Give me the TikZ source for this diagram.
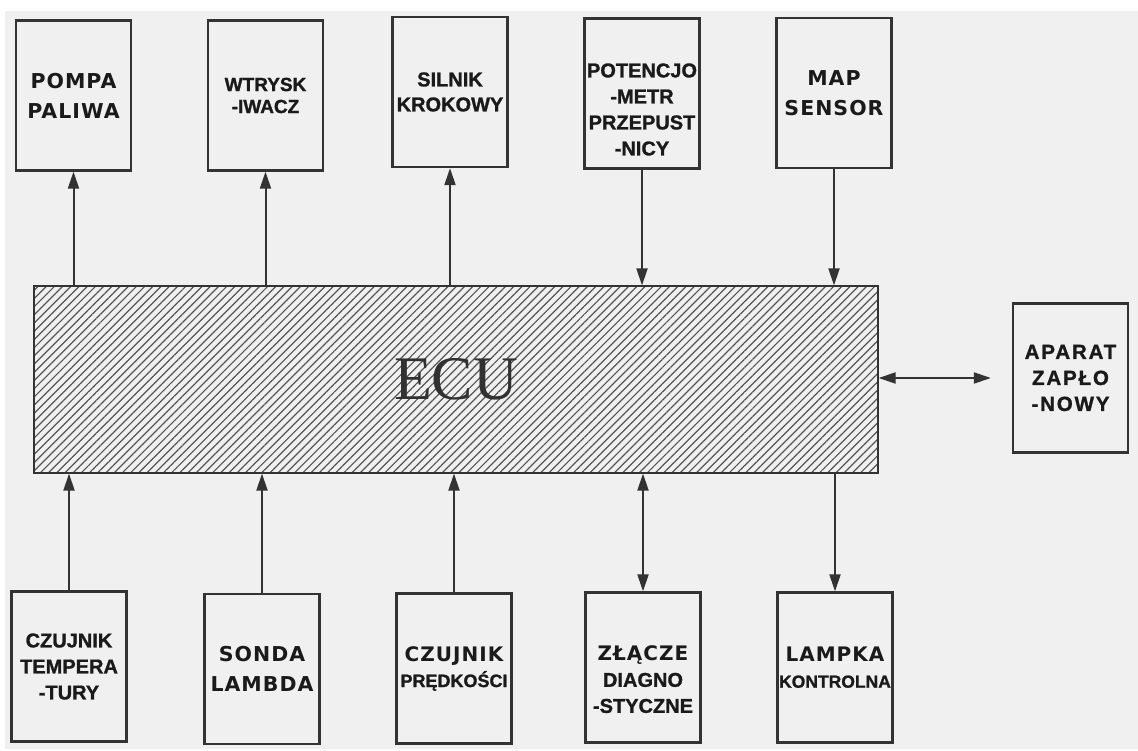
\documentclass[tikz,border=0pt]{standalone}
\usepackage{fontspec}
\usepackage{tikz}
\usetikzlibrary{arrows.meta,positioning,patterns.meta}
\setmainfont{Liberation Sans}[BoldFeatures={FakeBold=1.2}]
\newfontfamily\widefont{DejaVu Sans}[LetterSpace=5]
\newfontfamily\spacedfont{Liberation Sans}[LetterSpace=9,BoldFeatures={FakeBold=1.2}]
\newfontfamily\ecufont{Liberation Serif}
\definecolor{bg}{HTML}{F0F0F0}
\definecolor{ink}{HTML}{333333}
\definecolor{txt}{HTML}{1A1A1A}
\definecolor{hatch}{HTML}{555555}
\tikzset{
  unit/.style={draw=ink, line width=2.3pt, minimum width=115pt, minimum height=150pt, inner sep=0pt, align=center, text=txt, font=\fontsize{20}{26}\selectfont\bfseries},
  lab/.style={align=center, text=txt, inner sep=0pt, font=\fontsize{20}{26}\selectfont\bfseries},
  wide/.style={font=\fontsize{20.5}{30}\selectfont\widefont\bfseries},
  sig/.style={draw=ink, line width=2pt, -{Triangle[length=17pt,width=11pt]}},
  sig2/.style={sig, {Triangle[length=17pt,width=11pt]}-{Triangle[length=17pt,width=11pt]}},
}

\begin{document}
\begin{tikzpicture}[x=1pt,y=-1pt]
\useasboundingbox (0,0) rectangle (1138,751);
\fill[bg] (5,11) rectangle (1138,749);

% ECU
\node[draw=ink, line width=2pt, minimum width=844pt, minimum height=187pt, inner sep=0pt,
  pattern={Lines[angle=45,distance=5.8pt,line width=1.2pt]}, pattern color=hatch,
  text=txt!90, font=\fontsize{62}{62}\selectfont\ecufont] (ecu) at (456,379.5) {ECU};

% outputs / inputs, top row
\node[unit, wide] (pompa) at (73.5,95.5) {POMPA\\PALIWA};
\node[unit, font=\fontsize{19}{22}\selectfont\bfseries] (wtrysk) at (265.5,95.5) {WTRYSK\\-IWACZ};
\node[unit, font=\fontsize{20}{25}\selectfont\bfseries] (silnik) at (450,92) {SILNIK\\KROKOWY};
\node[unit] (potenc) at (642,93.5) {};
\node[lab] (potenc-t) at ([yshift=-16pt]potenc.center) {POTENCJO\\-METR\\PRZEPUST\\-NICY};
\node[unit, wide] (map) at (834,93) {MAP\\SENSOR};

% bottom row
\node[unit] (czujtemp) at (69,666.5) {CZUJNIK\\TEMPERA\\-TURY};
\node[unit, wide] (sonda) at (262,669) {SONDA\\LAMBDA};
\node[unit] (czujpred) at (454,668.5) {{\widefont\bfseries CZUJNIK}\\{\fontsize{18}{24}\selectfont PRĘDKOŚCI}};
\node[unit] (zlacze) at (643,667.5) {};
\node[lab] (zlacze-t) at ([yshift=-12pt]zlacze.center) {{\widefont\bfseries ZŁĄCZE}\\DIAGNO\\-STYCZNE};
\node[unit] (lampka) at (835,667.5) {{\widefont\bfseries LAMPKA}\\{\fontsize{17.5}{24}\selectfont KONTROLNA}};

% right
\node[unit, minimum height=149pt, font=\fontsize{20.5}{26}\selectfont\spacedfont\bfseries] (aparat) at (1070.5,378) {APARAT\\ZAPŁO\\-NOWY};
\coordinate (zapin) at ([xshift=-21pt]aparat.west);

% connectors
\draw[sig] (ecu.north -| pompa.south) -- (pompa.south);
\draw[sig] (ecu.north -| wtrysk.south) -- (wtrysk.south);
\draw[sig] (ecu.north -| silnik.south) -- (silnik.south);
\draw[sig] (potenc.south) -- (ecu.north -| potenc.south);
\draw[sig] (map.south) -- (ecu.north -| map.south);
\draw[sig] (czujtemp.north) -- (ecu.south -| czujtemp.north);
\draw[sig] (sonda.north) -- (ecu.south -| sonda.north);
\draw[sig] (czujpred.north) -- (ecu.south -| czujpred.north);
\draw[sig2] (ecu.south -| zlacze.north) -- (zlacze.north);
\draw[sig] (ecu.south -| lampka.north) -- (lampka.north);
\draw[sig2] (ecu.east |- zapin) -- (zapin);
\end{tikzpicture}
\end{document}
